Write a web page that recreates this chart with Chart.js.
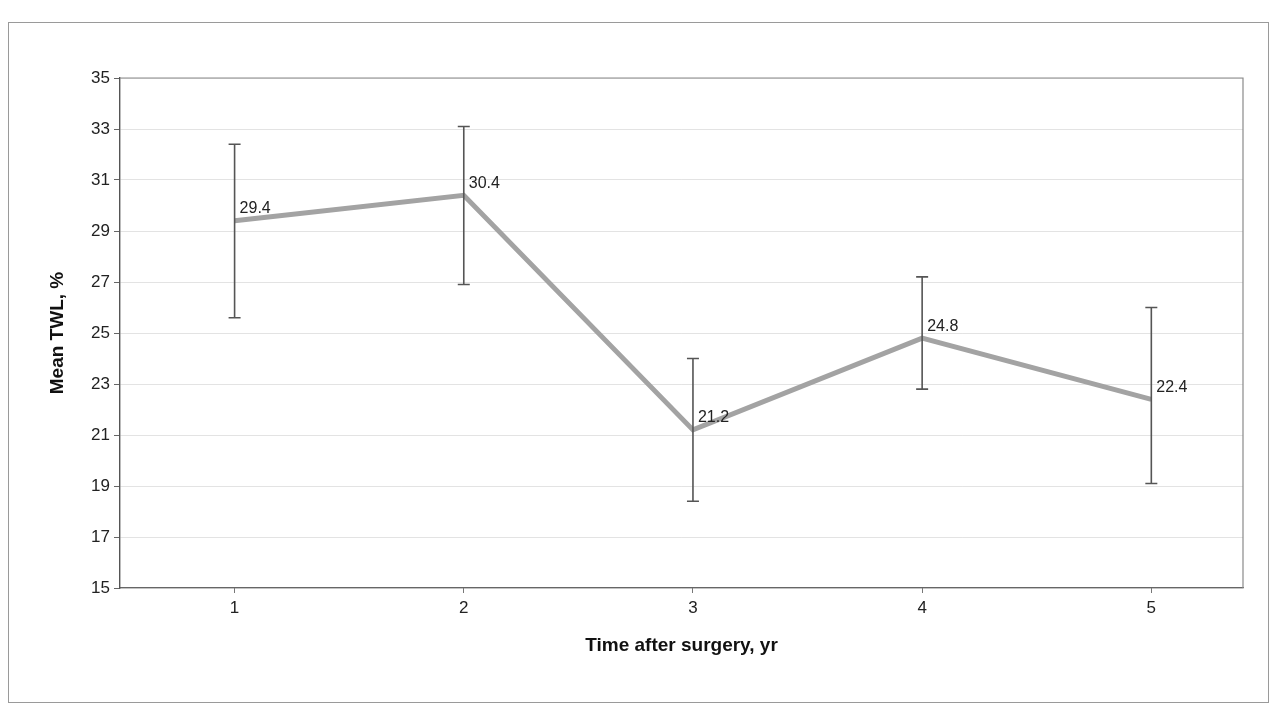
<!DOCTYPE html>
<html>
<head>
<meta charset="utf-8">
<script src="https://cdn.jsdelivr.net/npm/chart.js@4.4.1/dist/chart.umd.min.js"></script>
<style>
  html, body { margin: 0; padding: 0; background: #fff; }
  #wrap { width: 1276px; height: 706px; position: relative; }
</style>
</head>
<body>
<div id="wrap"><canvas id="twl"></canvas></div>
<script>
// values
var years = [1, 2, 3, 4, 5];
var meanTWL = [29.4, 30.4, 21.2, 24.8, 22.4];
var errHigh = [32.4, 33.1, 24.0, 27.2, 26.0];
var errLow = [25.6, 26.9, 18.4, 22.8, 19.1];
var pointLabels = ["29.4", "30.4", "21.2", "24.8", "22.4"];

var FONT = "'Liberation Sans', Arial, sans-serif";

// outer frame + plot box
var framePlugin = {
    id: 'frame',
    beforeDraw: function(chart) {
        var ctx = chart.ctx;
        ctx.save();
        ctx.strokeStyle = '#9a9a9a';
        ctx.lineWidth = 1;
        ctx.strokeRect(8.5, 22.5, 1260, 680);
        ctx.restore();
    },
    afterDatasetsDraw: function(chart) {
        var a = chart.chartArea, ctx = chart.ctx;
        ctx.save();
        ctx.strokeStyle = '#8a8a8a';
        ctx.lineWidth = 1.2;
        ctx.beginPath();
        ctx.moveTo(a.left, a.top);
        ctx.lineTo(a.right, a.top);
        ctx.lineTo(a.right, a.bottom);
        ctx.stroke();
        ctx.restore();
    }
};

// vertical error bars with caps
var errorBarPlugin = {
    id: 'errbars',
    afterDatasetsDraw: function(chart) {
        var ctx = chart.ctx;
        var x = chart.scales.x, y = chart.scales.y;
        ctx.save();
        ctx.strokeStyle = '#555';
        ctx.lineWidth = 1.6;
        for (var i = 0; i < years.length; i++) {
            var px = x.getPixelForValue(years[i]);
            var top = y.getPixelForValue(errHigh[i]);
            var bot = y.getPixelForValue(errLow[i]);
            ctx.beginPath();
            ctx.moveTo(px, top); ctx.lineTo(px, bot);
            ctx.moveTo(px - 6, top); ctx.lineTo(px + 6, top);
            ctx.moveTo(px - 6, bot); ctx.lineTo(px + 6, bot);
            ctx.stroke();
        }
        ctx.restore();
    }
};

var labelPlugin = {
    id: 'ptlabels',
    afterDatasetsDraw: function(chart) {
        var ctx = chart.ctx;
        var meta = chart.getDatasetMeta(0);
        ctx.save();
        ctx.font = '16px ' + FONT;
        ctx.fillStyle = '#222';
        ctx.textAlign = 'left';
        ctx.textBaseline = 'middle';
        meta.data.forEach(function(pt, i) {
            ctx.fillText(pointLabels[i], pt.x + 5, pt.y - 12);
        });
        ctx.restore();
    }
};

new Chart(document.getElementById("twl").getContext("2d"), {
    type: 'line',
    data: {
        datasets: [{
            label: 'Mean TWL',
            data: years.map(function(yr, i) { return { x: yr, y: meanTWL[i] }; }),
            borderColor: '#a3a3a3',
            borderWidth: 5,
            tension: 0,
            pointRadius: 0,
            fill: false
        }]
    },
    options: {
        responsive: true,
        maintainAspectRatio: false,
        animation: false,
        layout: { padding: { left: 0, top: 78, right: 33, bottom: 45 } },
        plugins: { legend: { display: false }, tooltip: { enabled: false } },
        scales: {
            x: {
                type: 'linear',
                min: 0.5,
                max: 5.4,
                afterBuildTicks: function(scale) {
                    scale.ticks = years.map(function(v) { return { value: v }; });
                },
                grid: { display: true, drawOnChartArea: false, tickLength: 5, color: '#777' },
                border: { color: '#666', width: 1.2 },
                ticks: { color: '#222', font: { family: FONT, size: 17 }, padding: 5 },
                title: {
                    display: true,
                    text: 'Time after surgery, yr',
                    color: '#111',
                    font: { family: FONT, size: 19, weight: 'bold' },
                    padding: { top: 4, bottom: 4 }
                },
                afterFit: function(scale) { scale.height = 73; }
            },
            y: {
                min: 15,
                max: 35,
                ticks: { stepSize: 2, color: '#222', font: { family: FONT, size: 17 }, padding: 4 },
                grid: {
                    color: 'rgba(0,0,0,0.11)',
                    tickColor: '#666',
                    tickLength: 6,
                    drawOnChartArea: true
                },
                border: { color: '#555', width: 1.4 },
                title: {
                    display: true,
                    text: 'Mean TWL, %',
                    color: '#111',
                    font: { family: FONT, size: 19, weight: 'bold' },
                    padding: { top: 46, bottom: 4 }
                },
                afterFit: function(scale) { scale.width = 120; }
            }
        }
    },
    plugins: [framePlugin, errorBarPlugin, labelPlugin]
});
</script>
</body>
</html>
